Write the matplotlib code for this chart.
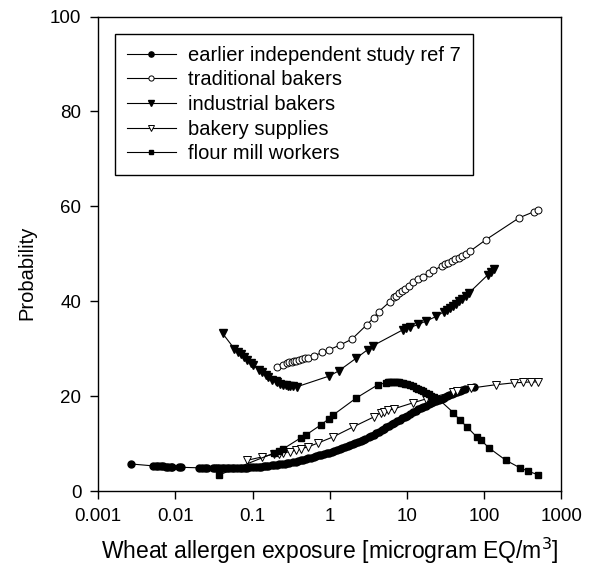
import matplotlib
matplotlib.use("Agg")
import matplotlib.pyplot as plt

plt.rcParams['font.family'] = ['Liberation Sans', 'DejaVu Sans']

# ---- data ----
# earlier independent study ref 7 (filled circles, very dense curve)
early_x = [0.0027, 0.0052, 0.0056, 0.0060, 0.0065, 0.0070, 0.0075, 0.0081, 0.0087, 0.0091,
           0.011, 0.012, 0.020, 0.022, 0.024, 0.026,
           0.031, 0.033, 0.035, 0.037, 0.040, 0.043, 0.046, 0.050, 0.054, 0.058,
           0.063, 0.068, 0.073, 0.079, 0.085, 0.092, 0.10, 0.11, 0.12, 0.13,
           0.14, 0.15, 0.16, 0.18, 0.19, 0.21, 0.22, 0.24, 0.26, 0.28,
           0.30, 0.33, 0.36, 0.39, 0.42, 0.45, 0.49, 0.53, 0.57, 0.62,
           0.67, 0.72, 0.78, 0.84, 0.91, 0.98, 1.06, 1.15, 1.24, 1.34,
           1.45, 1.57, 1.70, 1.84, 1.98, 2.14, 2.32, 2.5, 2.7, 2.9,
           3.2, 3.4, 3.7, 4.0, 4.3, 4.7, 5.0, 5.4, 5.9, 6.3,
           6.8, 7.4, 8.0, 8.6, 9.3, 10, 11, 12, 13, 14,
           15, 16, 17.5, 19, 20.5, 22, 24, 26, 28, 30,
           33, 35, 38, 41, 44, 48, 52, 56, 74]
early_y = [5.7, 5.3, 5.3, 5.2, 5.2, 5.2, 5.1, 5.1, 5.1, 5.1,
           5.0, 5.0, 4.9, 4.9, 4.8, 4.8,
           4.8, 4.8, 4.8, 4.8, 4.8, 4.8, 4.8, 4.8, 4.8, 4.85,
           4.85, 4.9, 4.9, 4.9, 4.95, 5.0, 5.0, 5.05, 5.1, 5.15,
           5.2, 5.25, 5.3, 5.4, 5.45, 5.5, 5.6, 5.7, 5.75, 5.85,
           5.95, 6.05, 6.2, 6.3, 6.45, 6.6, 6.75, 6.9, 7.05, 7.2,
           7.35, 7.5, 7.65, 7.8, 7.95, 8.1, 8.3, 8.45, 8.65, 8.85,
           9.05, 9.25, 9.45, 9.65, 9.85, 10.1, 10.3, 10.55, 10.8, 11.05,
           11.35, 11.6, 11.9, 12.2, 12.5, 12.85, 13.1, 13.4, 13.75, 14.05,
           14.35, 14.7, 15.0, 15.3, 15.6, 15.9, 16.3, 16.6, 16.95, 17.2,
           17.5, 17.75, 17.95, 18.25, 18.5, 18.75, 19.0, 19.2, 19.45, 19.7,
           20.0, 20.2, 20.4, 20.6, 20.8, 21.0, 21.2, 21.4, 21.9]

# traditional bakers (open circles)
trad_x = [0.21, 0.25, 0.28, 0.30, 0.32, 0.34, 0.37, 0.40, 0.44, 0.48,
          0.52, 0.62, 0.80, 0.99, 1.37, 1.93, 3.0, 3.7, 4.3, 6.0,
          6.8, 7.3, 7.9, 8.6, 9.3, 10.5, 12, 14, 16, 19,
          22, 28, 31, 34, 38, 42, 47, 52, 58, 65,
          106, 285, 446, 490]
trad_y = [26.2, 26.6, 27.0, 27.1, 27.2, 27.4, 27.5, 27.6, 27.8, 28.0,
          28.1, 28.5, 29.2, 29.8, 30.8, 32.0, 35.0, 36.5, 37.8, 39.9,
          40.8, 41.2, 41.7, 42.2, 42.6, 43.2, 44.0, 44.6, 45.2, 45.9,
          46.5, 47.4, 47.8, 48.1, 48.5, 48.8, 49.2, 49.6, 50.0, 50.5,
          53.0, 57.6, 58.9, 59.3]

# industrial bakers (filled triangles)
ind_x = [0.041, 0.058, 0.065, 0.070, 0.078, 0.086, 0.095, 0.10, 0.12, 0.134,
         0.15, 0.16, 0.18, 0.20, 0.21, 0.23, 0.25, 0.27, 0.29, 0.31,
         0.33, 0.38, 0.97, 1.3, 2.2, 3.1, 3.6, 8.9, 9.8, 11,
         14, 17.5, 24, 30, 33, 36, 39, 43, 47, 52,
         58, 64, 112, 122, 133]
ind_y = [33.2, 30.0, 29.3, 28.8, 28.3, 27.7, 27.0, 26.6, 25.6, 25.0,
         24.4, 24.0, 23.5, 23.1, 22.9, 22.6, 22.4, 22.3, 22.2, 22.2,
         22.1, 22.0, 24.2, 25.3, 28.0, 29.8, 30.6, 34.0, 34.3, 34.5,
         35.1, 35.8, 36.8, 37.8, 38.2, 38.6, 39.0, 39.5, 40.0, 40.5,
         41.2, 41.8, 45.6, 46.1, 46.7]

# bakery supplies (open triangles)
sup_x = [0.086, 0.134, 0.19, 0.22, 0.25, 0.31, 0.36, 0.42, 0.52, 0.70,
         1.1, 2.0, 3.7, 4.6, 5.1, 5.7, 6.7, 12, 17.5, 40,
         44, 68, 140, 240, 320, 400, 500]
sup_y = [6.5, 7.2, 7.8, 7.9, 8.1, 8.3, 8.6, 8.9, 9.3, 10.1,
         11.4, 13.5, 15.6, 16.5, 16.7, 17.0, 17.3, 18.6, 19.4, 20.9,
         21.1, 21.7, 22.4, 22.8, 22.9, 23.0, 23.0]

# flour mill workers (filled squares)
mill_x = [0.037, 0.19, 0.22, 0.25, 0.42, 0.49, 0.76, 0.97, 1.1, 2.2,
          4.2, 5.3, 5.6, 5.9, 6.2, 6.6, 7.0, 7.4, 7.9, 8.4,
          8.9, 9.5, 10, 11, 12, 13, 14, 15, 16, 17.5,
          19, 20.5, 22.5, 25.5, 40, 48, 60, 80, 90, 115,
          190, 290, 370, 500]
mill_y = [3.4, 8.0, 8.4, 8.9, 11.2, 11.8, 13.9, 15.2, 16.0, 19.6,
          22.4, 22.8, 22.9, 23.0, 23.0, 23.0, 23.0, 22.9, 22.9, 22.8,
          22.7, 22.6, 22.5, 22.3, 22.1, 21.8, 21.5, 21.3, 21.0, 20.7,
          20.4, 20.1, 19.8, 19.4, 16.5, 15.0, 13.5, 11.4, 10.8, 9.1,
          6.5, 4.9, 4.2, 3.4]

labels = ["earlier independent study ref 7", "traditional bakers",
          "industrial bakers", "bakery supplies", "flour mill workers"]
x_ticks = [0.001, 0.01, 0.1, 1, 10, 100, 1000]
x_ticklabels = ["0.001", "0.01", "0.1", "1", "10", "100", "1000"]
y_ticks = [0, 20, 40, 60, 80, 100]

fig = plt.figure(figsize=(5.91, 5.69), dpi=100)
ax = fig.add_axes([0.166, 0.137, 0.784, 0.834])

lw = 0.8
ax.plot(early_x, early_y, '-', color='black', lw=lw, marker='o', ms=5,
        mfc='black', mec='black', label=labels[0])
ax.plot(trad_x, trad_y, '-', color='black', lw=lw, marker='o', ms=5,
        mfc='white', mec='black', mew=0.7, label=labels[1])
ax.plot(ind_x, ind_y, '-', color='black', lw=lw, marker='v', ms=5.5,
        mfc='black', mec='black', label=labels[2])
ax.plot(sup_x, sup_y, '-', color='black', lw=lw, marker='v', ms=5.5,
        mfc='white', mec='black', mew=0.7, label=labels[3])
ax.plot(mill_x, mill_y, '-', color='black', lw=lw, marker='s', ms=4.5,
        mfc='black', mec='black', label=labels[4])

ax.set_xscale('log')
ax.set_xlim(0.001, 1000)
ax.set_ylim(0, 100)
ax.set_xticks(x_ticks)
ax.set_xticklabels(x_ticklabels)
ax.set_yticks(y_ticks)
ax.minorticks_off()
ax.tick_params(direction='out', length=6, width=1, labelsize=13.5, pad=6)
for s in ax.spines.values():
    s.set_linewidth(1)

ax.set_xlabel("Wheat allergen exposure [microgram EQ/m$^3$]", fontsize=16.5, labelpad=8)
ax.set_ylabel("Probability", fontsize=14.5)
ax.yaxis.set_label_coords(-0.134, 0.459)

leg = ax.legend(loc='upper left', bbox_to_anchor=(0.037, 0.964), fontsize=14.5,
                frameon=True, fancybox=False, edgecolor='black', framealpha=1,
                handlelength=2.4, labelspacing=0.28, borderpad=0.6, handletextpad=0.6,
                borderaxespad=0, markerscale=0.75)
leg.get_frame().set_linewidth(1)

fig.savefig("out.png", dpi=100)
